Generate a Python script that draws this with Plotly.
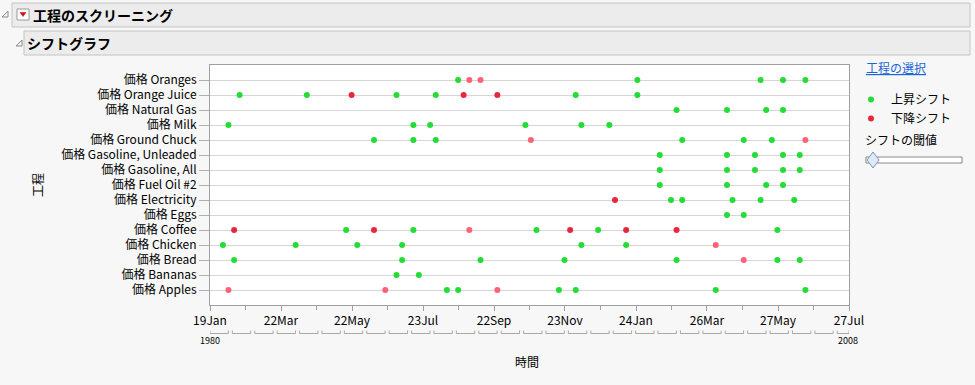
import plotly.graph_objects as go
from datetime import date, timedelta

# ---------------- data ----------------
categories = ["価格 Apples", "価格 Bananas", "価格 Bread", "価格 Chicken", "価格 Coffee",
              "価格 Eggs", "価格 Electricity", "価格 Fuel Oil #2", "価格 Gasoline, All",
              "価格 Gasoline, Unleaded", "価格 Ground Chuck", "価格 Milk", "価格 Natural Gas",
              "価格 Orange Juice", "価格 Oranges"]

# upward shifts (green)
up_process = (["価格 Oranges"] * 5 + ["価格 Orange Juice"] * 6 + ["価格 Natural Gas"] * 4 +
              ["価格 Milk"] * 6 + ["価格 Ground Chuck"] * 6 + ["価格 Gasoline, Unleaded"] * 5 +
              ["価格 Gasoline, All"] * 5 + ["価格 Fuel Oil #2"] * 4 + ["価格 Electricity"] * 5 +
              ["価格 Eggs"] * 2 + ["価格 Coffee"] * 5 + ["価格 Chicken"] * 6 + ["価格 Bread"] * 7 +
              ["価格 Bananas"] * 2 + ["価格 Apples"] * 6)
up_quarter = ["1991Q1", "1999Q1", "2004Q3", "2005Q3", "2006Q3",
              "1981Q2", "1984Q2", "1988Q2", "1990Q1", "1996Q2", "1999Q1",
              "2000Q4", "2003Q1", "2004Q4", "2005Q3",
              "1980Q4", "1989Q1", "1989Q4", "1994Q1", "1996Q3", "1997Q4",
              "1987Q2", "1989Q1", "1990Q1", "2001Q1", "2003Q4", "2005Q1",
              "2000Q1", "2003Q1", "2004Q2", "2005Q3", "2006Q2",
              "2000Q1", "2003Q1", "2004Q2", "2005Q3", "2006Q2",
              "2000Q1", "2003Q1", "2004Q4", "2005Q3",
              "2000Q3", "2001Q1", "2003Q2", "2004Q3", "2006Q1",
              "2003Q1", "2003Q4",
              "1986Q1", "1989Q1", "1994Q3", "1997Q2", "2005Q2",
              "1980Q3", "1983Q4", "1986Q3", "1988Q3", "1996Q3", "1998Q3",
              "1981Q1", "1988Q3", "1992Q1", "1995Q4", "2000Q4", "2005Q2", "2006Q2",
              "1988Q2", "1989Q2",
              "1990Q3", "1991Q1", "1995Q3", "1996Q2", "2002Q3", "2006Q3"]

# downward shifts, strong (dark red)
down_strong_process = ["価格 Orange Juice"] * 3 + ["価格 Electricity"] + ["価格 Coffee"] * 5
down_strong_quarter = ["1986Q2", "1991Q2", "1992Q4", "1998Q1",
                       "1981Q1", "1987Q2", "1996Q1", "1998Q3", "2000Q4"]

# downward shifts, weak (pink)
down_weak_process = (["価格 Oranges"] * 2 + ["価格 Ground Chuck"] * 2 + ["価格 Coffee"] +
                     ["価格 Chicken"] + ["価格 Bread"] + ["価格 Apples"] * 3)
down_weak_quarter = ["1991Q3", "1992Q1", "1994Q2", "2006Q3", "1991Q3",
                     "2002Q3", "2003Q4", "1980Q4", "1987Q4", "1992Q4"]

tick_dates = ["1980-01-19", "1983-03-22", "1986-05-22", "1989-07-23", "1992-09-22",
              "1995-11-23", "1999-01-24", "2002-03-26", "2005-05-27", "2008-07-27"]
tick_text = ["19Jan", "22Mar", "22May", "23Jul", "22Sep", "23Nov", "24Jan", "26Mar",
             "27May", "27Jul"]

# ---------------- helpers ----------------
Q_MID = {"Q1": "-02-15", "Q2": "-05-16", "Q3": "-08-16", "Q4": "-11-15"}


def q2d(q):
    return q[:4] + Q_MID[q[4:]]


W, H = 975, 385
L, R, T, B = 210, 849, 65, 305


def px(x):
    return (x - L) / (R - L)


def py(y):
    return (B - y) / (B - T)


GREEN = "#22dd35"
DARK = "#e9263c"
PINK = "#ff6176"
FONT = "Noto Sans CJK JP"

fig = go.Figure()
fig.add_trace(go.Scatter(x=[q2d(q) for q in up_quarter], y=up_process, mode="markers",
                         name="上昇シフト", marker=dict(color=GREEN, size=6)))
fig.add_trace(go.Scatter(x=[q2d(q) for q in down_strong_quarter], y=down_strong_process,
                         mode="markers", name="下降シフト", marker=dict(color=DARK, size=6)))
fig.add_trace(go.Scatter(x=[q2d(q) for q in down_weak_quarter], y=down_weak_process,
                         mode="markers", name="下降シフト (弱)", showlegend=False,
                         marker=dict(color=PINK, size=6)))

# minor ticks at midpoints of major ticks
tds = [date.fromisoformat(d) for d in tick_dates]
minor_vals = [(a + (b - a) / 2).isoformat() for a, b in zip(tds[:-1], tds[1:])]

shapes = []
# header boxes
shapes.append(dict(type="rect", xref="paper", yref="paper", x0=px(12), x1=px(970),
                   y0=py(27), y1=py(3), fillcolor="#ececec", line=dict(color="#c4c4c4", width=1),
                   layer="below"))
shapes.append(dict(type="rect", xref="paper", yref="paper", x0=px(24), x1=px(970),
                   y0=py(55), y1=py(31), fillcolor="#ececec", line=dict(color="#c4c4c4", width=1),
                   layer="below"))
# disclosure triangles
for (x0, y0) in [(2, 17), (16, 46)]:
    shapes.append(dict(type="path", xref="paper", yref="paper",
                       path=f"M {px(x0)},{py(y0)} L {px(x0 + 6)},{py(y0)} L {px(x0 + 6)},{py(y0 - 6)} Z",
                       line=dict(color="#8a8a8a", width=1), fillcolor="#f4f4f4"))
# red dropdown icon
shapes.append(dict(type="rect", xref="paper", yref="paper", x0=px(17), x1=px(29),
                   y0=py(20), y1=py(9), fillcolor="#ffffff", line=dict(color="#9a9a9a", width=1)))
shapes.append(dict(type="path", xref="paper", yref="paper",
                   path=f"M {px(20)},{py(12.5)} L {px(26)},{py(12.5)} L {px(23)},{py(16.5)} Z",
                   line=dict(color="#d01010", width=0.5), fillcolor="#d01010"))
# slider
shapes.append(dict(type="rect", xref="paper", yref="paper", x0=px(866), x1=px(962),
                   y0=py(163), y1=py(157), fillcolor="#ffffff", line=dict(color="#8a8a8a", width=1)))
shapes.append(dict(type="path", xref="paper", yref="paper",
                   path=f"M {px(873)},{py(152)} L {px(879)},{py(160)} L {px(873)},{py(168)} L {px(867)},{py(160)} Z",
                   line=dict(color="#7f95b5", width=1), fillcolor="#dfe8f6"))

# year brackets below the axis
ax_start, ax_end = tds[0], tds[-1]
yb, yt = py(333.5), py(330.5)
for yr in range(1980, 2009):
    s = max(date(yr, 1, 1) + timedelta(days=16), ax_start)
    e = min(date(yr + 1, 1, 1) - timedelta(days=49), ax_end)
    for xa, xb, ya, yb2 in [(s, e, yb, yb), (s, s, yb, yt), (e, e, yb, yt)]:
        shapes.append(dict(type="line", xref="x", yref="paper", x0=xa.isoformat(),
                           x1=xb.isoformat(), y0=ya, y1=yb2,
                           line=dict(color="#a8a8a8", width=1)))

annotations = [
    dict(text="<b>工程のスクリーニング</b>", x=px(31), y=py(15), xref="paper", yref="paper",
         xanchor="left", yanchor="middle", showarrow=False, font=dict(size=14, color="#000")),
    dict(text="<b>シフトグラフ</b>", x=px(25), y=py(43), xref="paper", yref="paper",
         xanchor="left", yanchor="middle", showarrow=False, font=dict(size=14, color="#000")),
    dict(text="<u>工程の選択</u>", x=px(864), y=py(68), xref="paper", yref="paper",
         xanchor="left", yanchor="middle", showarrow=False, font=dict(size=12, color="#1a66d6")),
    dict(text="シフトの閾値", x=px(863), y=py(139), xref="paper", yref="paper",
         xanchor="left", yanchor="middle", showarrow=False, font=dict(size=12, color="#000")),
    dict(text="時間", x=px(527), y=py(361), xref="paper", yref="paper",
         xanchor="center", yanchor="middle", showarrow=False, font=dict(size=12, color="#000")),
    dict(text="工程", x=px(37), y=py(185), xref="paper", yref="paper", textangle=-90,
         xanchor="center", yanchor="middle", showarrow=False, font=dict(size=12, color="#000")),
    dict(text="1980", x=px(209.5), y=py(340), xref="paper", yref="paper",
         xanchor="center", yanchor="middle", showarrow=False, font=dict(size=9, color="#000")),
    dict(text="2008", x=px(847.5), y=py(340), xref="paper", yref="paper",
         xanchor="center", yanchor="middle", showarrow=False, font=dict(size=9, color="#000")),
]

fig.update_layout(
    width=W, height=H, autosize=False,
    margin=dict(l=L, r=W - R, t=T, b=H - B),
    paper_bgcolor="#f7f7f7", plot_bgcolor="#ffffff",
    font=dict(family=FONT, size=12, color="#000"),
    showlegend=True,
    legend=dict(x=px(851), y=py(85), xanchor="left", yanchor="top",
                bgcolor="rgba(0,0,0,0)", font=dict(size=12), tracegroupgap=0),
    shapes=shapes, annotations=annotations,
    xaxis=dict(type="date", range=[tick_dates[0], tick_dates[-1]],
               tickmode="array", tickvals=tick_dates, ticktext=tick_text,
               ticks="outside", ticklen=5, tickcolor="#a0a0a0",
               minor=dict(tickmode="array", tickvals=minor_vals, ticks="outside",
                          ticklen=4, tickcolor="#a0a0a0"),
               showgrid=False, zeroline=False, showline=True, mirror=True,
               linecolor="#a0a0a0", linewidth=1, tickfont=dict(size=12, color="#000")),
    yaxis=dict(type="category", categoryorder="array", categoryarray=categories,
               range=[-1, len(categories)], ticks="outside", ticklen=10, tickcolor="#b0b0b0",
               showgrid=True, gridcolor="#d6d6d6", gridwidth=1, zeroline=False,
               showline=True, mirror=True, linecolor="#a0a0a0", linewidth=1,
               tickfont=dict(size=12, color="#000")),
)

fig.write_html("out.html")
